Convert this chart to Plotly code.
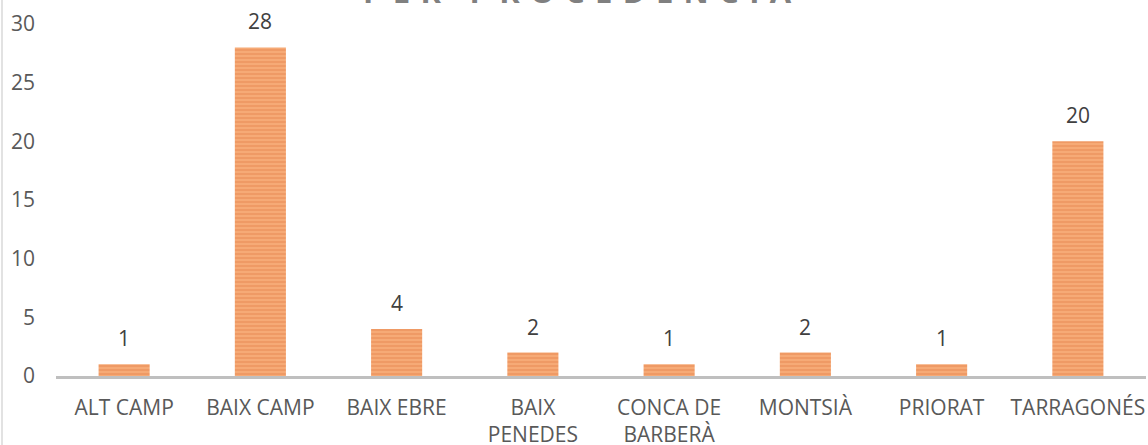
import plotly.graph_objects as go

categories = ["ALT CAMP", "BAIX CAMP", "BAIX EBRE", "BAIX<br>PENEDES", "CONCA DE<br>BARBERÀ", "MONTSIÀ", "PRIORAT", "TARRAGONÉS"]
values = [1, 28, 4, 2, 1, 2, 1, 20]
y_ticks = [0, 5, 10, 15, 20, 25, 30]
title_text = "PER PROCEDÈNCIA"

W, H = 1148, 445
ml, mr, mt, mb = 56, 2, 24, 69
PH = H - mt - mb
FONT = "Open Sans"
FS = 21

fig = go.Figure()
fig.add_trace(go.Bar(
    x=categories, y=values,
    marker=dict(
        color="#F5A56F",
        line=dict(width=0),
        pattern=dict(shape="-", fgcolor="#E4834A", bgcolor="#F6AA76", size=4, solidity=0.4),
    ),
    hoverinfo="skip",
))

for c, v in zip(categories, values):
    fig.add_annotation(x=c, y=v, text=str(v), showarrow=False, yanchor="bottom", yshift=10,
                       font=dict(family=FONT, size=FS, color="#404040"))

spaced = "\u2009\u2009".join(title_text)
fig.add_annotation(xref="paper", yref="paper", x=(577 - ml) / (W - ml - mr), xanchor="center",
                   y=1.0 + (mt - 14) / PH, yanchor="bottom",
                   text="<b>" + spaced + "</b>", showarrow=False,
                   font=dict(family=FONT, size=31, color="#808080"))

# left border of chart area
fig.add_shape(type="line", xref="paper", yref="paper",
              x0=(2 - ml) / (W - ml - mr), x1=(2 - ml) / (W - ml - mr),
              y0=-mb / PH, y1=1 + mt / PH,
              line=dict(color="#D9D9D9", width=1.5))

fig.update_layout(
    width=W, height=H,
    margin=dict(l=ml, r=mr, t=mt, b=mb),
    plot_bgcolor="white", paper_bgcolor="white",
    bargap=0.625, showlegend=False,
    font=dict(family=FONT, size=FS, color="#595959"),
    xaxis=dict(showgrid=False, showline=True, linecolor="#BFBFBF", linewidth=2.5, automargin=False,
               ticks="", ticklabelstandoff=11, tickfont=dict(family=FONT, size=FS, color="#595959")),
    yaxis=dict(range=[0, 30], tickvals=y_ticks, showgrid=False, zeroline=False, showline=False,
               automargin=False,
               ticks="", ticklabelstandoff=20, tickfont=dict(family=FONT, size=FS, color="#595959")),
)

fig.write_html("out.html", config={"displayModeBar": False},
               post_script="document.body.style.margin='0';")
